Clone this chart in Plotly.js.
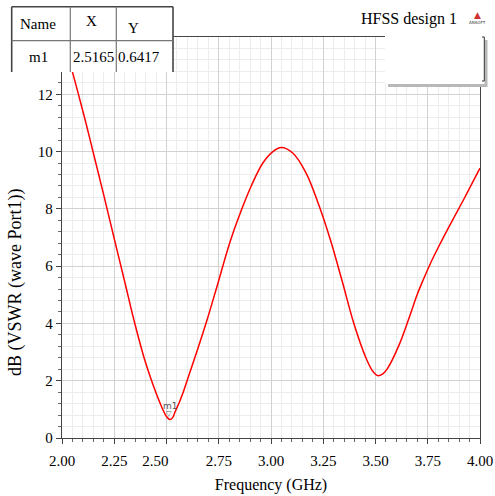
<!DOCTYPE html>
<html>
<head>
<meta charset="utf-8">
<script src="https://cdn.plot.ly/plotly-3.0.1.min.js"></script>
<style>html,body{margin:0;padding:0;background:#fff;}#chart{width:495px;height:496px;}</style>
</head>
<body>
<div id="chart"></div>
<script>
// ---- data ----
const freqGHz = [2.000, 2.0515, 2.110, 2.150, 2.1975, 2.2486, 2.301, 2.349, 2.396, 2.436, 2.476, 2.500, 2.5165, 2.530, 2.540, 2.560, 2.579, 2.610, 2.643, 2.691, 2.742, 2.802, 2.858, 2.9055, 2.961, 3.009, 3.049, 3.104, 3.168, 3.231, 3.287, 3.343, 3.398, 3.454, 3.485, 3.5095, 3.535, 3.557, 3.613, 3.661, 3.700, 3.730, 3.760, 3.800, 3.852, 3.920, 4.000];
const vswrDb  = [14.15, 12.74, 11.13, 9.95, 8.55, 7.00, 5.43, 3.98, 2.72, 1.85, 1.10, 0.75, 0.6417, 0.72, 0.90, 1.22, 1.58, 2.25, 2.97, 4.05, 5.30, 6.80, 7.95, 8.80, 9.60, 10.00, 10.14, 9.95, 9.25, 8.09, 6.85, 5.41, 3.96, 2.80, 2.35, 2.18, 2.24, 2.42, 3.25, 4.20, 5.02, 5.55, 6.05, 6.65, 7.38, 8.30, 9.42];
const xTickVals = [2.00, 2.25, 2.50, 2.75, 3.00, 3.25, 3.50, 3.75, 4.00];
const xTickText = ["2.00", "2.25", "2.50", "2.75", "3.00", "3.25", "3.50", "3.75", "4.00"];
const yTickVals = [0, 2, 4, 6, 8, 10, 12];
const markerName = "m1";
const markerX = 2.5165;
const markerY = 0.6417;
const tableHeader = ["Name", "X", "Y"];
const tableRow = ["m1", "2.5165", "0.6417"];
const chartTitle = "HFSS design 1";
const xTitle = "Frequency (GHz)";
const yTitle = "dB (VSWR (wave Port1))";

// ---- layout helpers (pixel -> paper) ----
const L = 62, R = 15, T = 37, B = 58, W = 495, H = 496;
const PW = W - L - R, PH = H - T - B;
const px = x => (x - L) / PW;
const py = y => (H - B - y) / PH;
const serif = "Liberation Serif";

const nb = "\u00a0";
const xTickShown = xTickText.map(t => t === "2.50" ? t + nb.repeat(6) : t);

const shapes = [];
function rect(x0, y0, x1, y1, fill, line) {
  shapes.push({type: "rect", xref: "paper", yref: "paper", x0: px(x0), x1: px(x1), y0: py(y1), y1: py(y0),
    fillcolor: fill, line: line || {width: 0}, layer: "above"});
}
function seg(x0, y0, x1, y1, color, w) {
  shapes.push({type: "line", xref: "paper", yref: "paper", x0: px(x0), x1: px(x1), y0: py(y0), y1: py(y1),
    line: {color: color, width: w}, layer: "above"});
}
// marker table
rect(11.7, 6.7, 173, 72, "#ffffff");
seg(11.7, 6.7, 173, 6.7, "#444", 1.6);
seg(11.7, 6.7, 11.7, 72, "#444", 1.6);
seg(173, 6.7, 173, 72, "#444", 1.6);
seg(11.7, 40.7, 173, 40.7, "#777", 1.2);
seg(70.3, 6.7, 70.3, 72, "#777", 1.2);
seg(116.3, 6.7, 116.3, 72, "#777", 1.2);
// legend box with shadow
rect(388, 40, 487.5, 87, "#b8b8b8");
rect(385, 36, 484.5, 84, "#ffffff");
seg(484.3, 37, 484.3, 81, "#333", 1);
seg(482, 37, 484.3, 37, "#333", 1);
seg(482, 81, 484.3, 81, "#333", 1);

const annotations = [];
function txt(x, y, t, size, opts) {
  annotations.push(Object.assign({xref: "paper", yref: "paper", x: px(x), y: py(y), text: t, showarrow: false,
    xanchor: "center", yanchor: "middle", font: {family: serif, size: size, color: "#000"}}, opts || {}));
}
txt(37.5, 24, tableHeader[0], 15);
txt(91, 21, tableHeader[1], 15);
txt(133, 28, tableHeader[2], 15);
txt(38, 57, tableRow[0], 15);
txt(93, 57, tableRow[1], 15);
txt(139, 57, tableRow[2], 15);
txt(359, 19, chartTitle, 16, {xanchor: "left"});
txt(477, 15, "▲", 9, {font: {family: "DejaVu Sans", size: 9, color: "#d03030"}});
txt(477, 23, "ANSOFT", 4, {font: {family: "DejaVu Sans", size: 4, color: "#333"}});
txt(15, 283, yTitle, 18, {textangle: -90});
// marker label on the curve
annotations.push({xref: "x", yref: "y", x: markerX, y: markerY, text: markerName, showarrow: false,
  xanchor: "center", yanchor: "middle", yshift: 14, xshift: 1,
  font: {family: "DejaVu Sans", size: 9, color: "#555"}});
annotations.push({xref: "x", yref: "y", x: markerX, y: markerY, text: "▽", showarrow: false,
  xanchor: "center", yanchor: "middle", yshift: 6, xshift: -1,
  font: {family: "DejaVu Sans", size: 7, color: "#555"}});

const traces = [{
  x: freqGHz, y: vswrDb, type: "scatter", mode: "lines",
  line: {color: "#ff0000", width: 1.5, shape: "spline", smoothing: 1},
  hoverinfo: "skip"
}];

const layout = {
  width: W, height: H,
  font: {family: serif, size: 15, color: "#000"},
  margin: {l: L, r: R, t: T, b: B, pad: 0},
  paper_bgcolor: "#ffffff", plot_bgcolor: "#ffffff",
  showlegend: false,
  xaxis: {
    range: [2, 4], tickmode: "array", tickvals: xTickVals, ticktext: xTickShown,
    ticks: "outside", ticklen: 5, tickcolor: "#444", tickwidth: 1,
    showline: true, mirror: true, linecolor: "#444", linewidth: 1.2,
    showgrid: true, gridcolor: "#d2d2d2", gridwidth: 1, zeroline: false,
    minor: {dtick: 0.05, showgrid: true, gridcolor: "#ececec", gridwidth: 1, ticks: "outside", ticklen: 3, tickcolor: "#666"},
    tickfont: {family: serif, size: 15, color: "#000"},
    ticklabelstandoff: 4,
    title: {text: xTitle, font: {family: serif, size: 16, color: "#000"}, standoff: 10},
    automargin: false, fixedrange: true
  },
  yaxis: {
    range: [0, 14], tickmode: "array", tickvals: yTickVals,
    ticks: "outside", ticklen: 5, tickcolor: "#444", tickwidth: 1,
    showline: true, mirror: true, linecolor: "#444", linewidth: 1.2,
    showgrid: true, gridcolor: "#d2d2d2", gridwidth: 1, zeroline: false,
    minor: {dtick: 0.4, showgrid: true, gridcolor: "#ececec", gridwidth: 1, ticks: "outside", ticklen: 3, tickcolor: "#666"},
    tickfont: {family: serif, size: 15, color: "#000"},
    automargin: false, fixedrange: true
  },
  shapes: shapes,
  annotations: annotations
};

Plotly.newPlot("chart", traces, layout, {staticPlot: true, displayModeBar: false});
</script>
</body>
</html>
